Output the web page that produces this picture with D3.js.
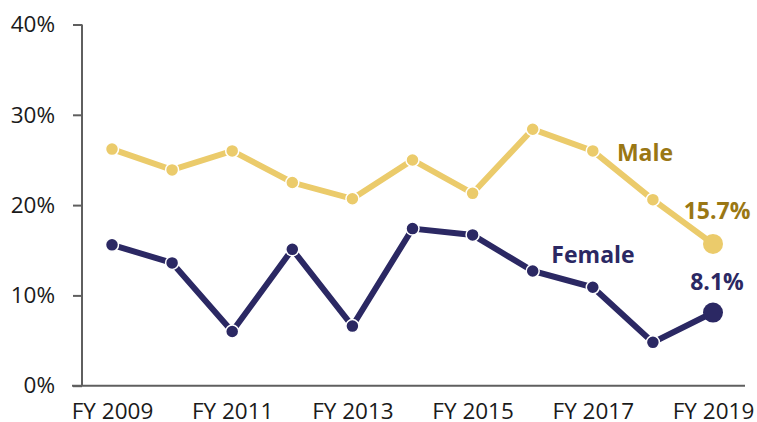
<!DOCTYPE html>
<html>
<head>
<meta charset="utf-8">
<script src="https://cdn.jsdelivr.net/npm/d3@7"></script>
<style>
  body { margin: 0; background: #fff; }
  svg text { font-family: "Open Sans", "Noto Sans", sans-serif; }
</style>
</head>
<body>
<div id="chart"></div>
<script>
// fiscal years and share values (%)
const years = [2009, 2010, 2011, 2012, 2013, 2014, 2015, 2016, 2017, 2018, 2019];
const male = [26.2, 23.9, 26.0, 22.5, 20.7, 25.0, 21.3, 28.4, 26.0, 20.6, 15.7];
const female = [15.6, 13.6, 6.0, 15.1, 6.6, 17.4, 16.7, 12.7, 10.9, 4.8, 8.1];
const yTicks = [0, 10, 20, 30, 40];
const xTicks = [2009, 2011, 2013, 2015, 2017, 2019];

const width = 757, height = 422;
const svg = d3.select("#chart").append("svg")
    .attr("width", width).attr("height", height);

const x = d3.scaleLinear().domain([2009, 2019]).range([112, 713]);
const y = d3.scaleLinear().domain([0, 40]).range([385.7, 24.5]);

// axes
const yAxis = svg.append("g")
    .attr("transform", "translate(82,0)")
    .call(d3.axisLeft(y).tickValues(yTicks).tickFormat(d => d + "%").tickSize(9).tickPadding(18));
yAxis.select(".domain").remove();
yAxis.selectAll("line").attr("stroke", "#5f5f5f").attr("stroke-width", 2);
yAxis.selectAll("text").attr("font-size", 22.5).attr("fill", "#1a1a1a");
svg.append("line")
    .attr("x1", 82).attr("x2", 82).attr("y1", y(40)).attr("y2", y(0))
    .attr("stroke", "#5f5f5f").attr("stroke-width", 2);

const xAxis = svg.append("g")
    .attr("transform", `translate(0,${y(0)})`)
    .call(d3.axisBottom(x).tickValues(xTicks).tickFormat(d => "FY " + d).tickSize(0));
xAxis.select(".domain").remove();
xAxis.selectAll("text")
    .attr("y", 33).attr("dy", null)
    .attr("font-size", 22.5).attr("fill", "#1a1a1a");
svg.append("line")
    .attr("x1", 72).attr("x2", 745).attr("y1", y(0)).attr("y2", y(0))
    .attr("stroke", "#5f5f5f").attr("stroke-width", 2);

const series = [
  { name: "Male", values: male, color: "#EBCB6B", label: "#9A7714" },
  { name: "Female", values: female, color: "#2B2863", label: "#2B2863" }
];

const line = d3.line()
    .x((d, i) => x(years[i]))
    .y(d => y(d));

series.forEach(s => {
  svg.append("path")
      .datum(s.values)
      .attr("fill", "none")
      .attr("stroke", s.color)
      .attr("stroke-width", 6)
      .attr("d", line);

  svg.append("g")
      .selectAll("circle")
      .data(s.values)
      .enter().append("circle")
      .attr("cx", (d, i) => x(years[i]))
      .attr("cy", d => y(d))
      .attr("r", (d, i) => i === s.values.length - 1 ? 10 : 6.5)
      .attr("fill", s.color)
      .attr("stroke", "#fff")
      .attr("stroke-width", (d, i) => i === s.values.length - 1 ? 0 : 1.5);
});

// direct labels
function label(text, lx, ly, color) {
  svg.append("text")
      .attr("x", lx).attr("y", ly)
      .attr("text-anchor", "middle")
      .attr("font-size", 23).attr("font-weight", "bold")
      .attr("fill", color)
      .text(text);
}
label("Male", 645, 161, "#9A7714");
label(male[10] + "%", x(2019) + 4, y(male[10]) - 25, "#9A7714");
label("Female", 593, 263, "#2B2863");
label(female[10] + "%", x(2019) + 4, y(female[10]) - 23, "#2B2863");
</script>
</body>
</html>
